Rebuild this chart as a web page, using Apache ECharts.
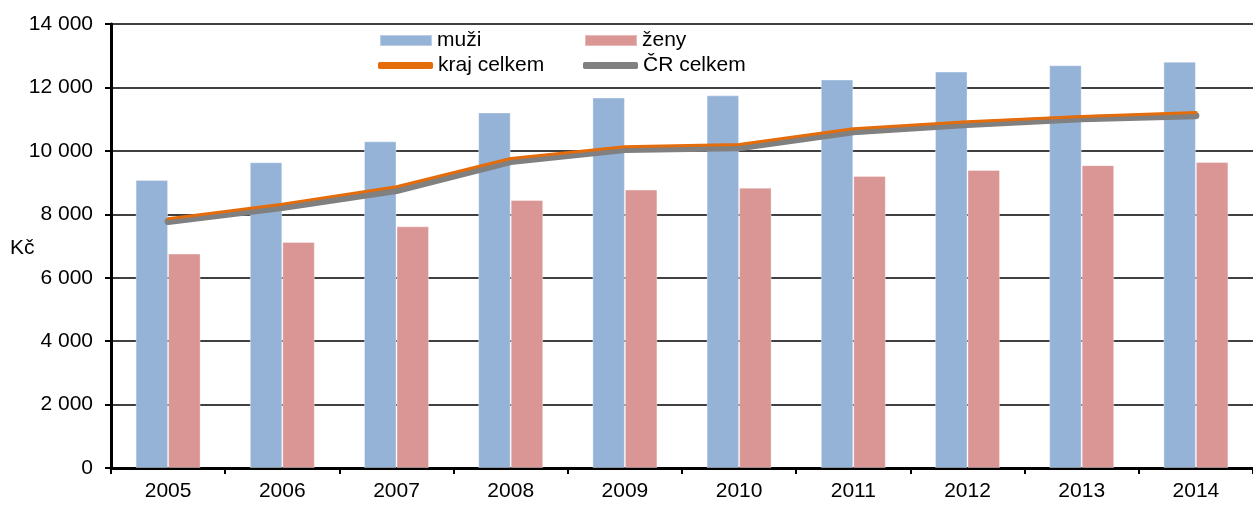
<!DOCTYPE html>
<html lang="cs">
<head>
    <meta charset="UTF-8">
    <title>Graf</title>
    <script src="https://cdn.jsdelivr.net/npm/echarts@6/dist/echarts.min.js"></script>
    <style>
        * {
            margin: 0;
            padding: 0;
        }

        #chart {
            width: 1253px;
            height: 506px;
            background: #fff;
        }
    </style>
</head>
<body>
    <div id="chart"></div>
    <script>
        // data
        const years = ['2005', '2006', '2007', '2008', '2009', '2010', '2011', '2012', '2013', '2014']
        const muzi = [9080, 9640, 10300, 11210, 11680, 11750, 12250, 12500, 12700, 12810]
        const zeny = [6760, 7130, 7620, 8450, 8780, 8840, 9210, 9400, 9550, 9650]
        const krajCelkem = [7860, 8320, 8870, 9760, 10130, 10200, 10700, 10920, 11080, 11210]
        const crCelkem = [7770, 8210, 8750, 9660, 10040, 10100, 10600, 10830, 11010, 11110]

        const font = 'Liberation Sans, Arial, sans-serif'

        const myChart = echarts.init(document.querySelector('#chart'))

        const legendBase = {
            orient: 'horizontal',
            padding: 0,
            itemTextGap: 6,
            selectedMode: false,
            textStyle: { fontFamily: font, fontSize: 21, color: '#000' }
        }

        const option = {
            animation: false,
            grid: {
                left: 111,
                right: 0,
                top: 24,
                bottom: 38
            },
            legend: [
                Object.assign({}, legendBase, { data: ['muži'], left: 379, top: 30, itemWidth: 52, itemHeight: 11, icon: 'rect' }),
                Object.assign({}, legendBase, { data: ['ženy'], left: 584, top: 30, itemWidth: 52, itemHeight: 11, icon: 'rect' }),
                Object.assign({}, legendBase, { data: ['kraj celkem'], left: 378, top: 55, itemWidth: 55, itemHeight: 7, icon: 'roundRect' }),
                Object.assign({}, legendBase, { data: ['ČR celkem'], left: 583, top: 55, itemWidth: 55, itemHeight: 7, icon: 'roundRect' })
            ],
            graphic: [{
                type: 'text',
                left: 10,
                top: 238,
                style: { text: 'Kč', fontFamily: font, fontSize: 21, fill: '#000' }
            }],
            xAxis: {
                type: 'category',
                data: years,
                axisLine: { lineStyle: { color: '#000', width: 3 } },
                axisTick: { show: true, length: 6, lineStyle: { color: '#000', width: 2 } },
                axisLabel: { fontFamily: font, fontSize: 21, color: '#000', margin: 13 },
                splitLine: { show: false }
            },
            yAxis: {
                type: 'value',
                min: 0,
                max: 14000,
                interval: 2000,
                axisLine: { show: true, lineStyle: { color: '#000', width: 3 } },
                axisTick: { show: true, length: 6, lineStyle: { color: '#000', width: 2 } },
                axisLabel: {
                    fontFamily: font,
                    fontSize: 21,
                    color: '#000',
                    margin: 18,
                    formatter: v => String(v).replace(/\B(?=(\d{3})+(?!\d))/g, ' ')
                },
                splitLine: { show: true, lineStyle: { color: '#000', width: 1.5 } }
            },
            series: [
                {
                    name: 'muži',
                    type: 'bar',
                    data: muzi,
                    barWidth: 32.5,
                    barGap: '0%',
                    itemStyle: { color: '#95B3D7', borderColor: 'rgba(255,255,255,0.35)', borderWidth: 1 }
                },
                {
                    name: 'ženy',
                    type: 'bar',
                    data: zeny,
                    barWidth: 32.5,
                    itemStyle: { color: '#D99694', borderColor: 'rgba(255,255,255,0.35)', borderWidth: 1 }
                },
                {
                    name: 'ČR celkem',
                    type: 'line',
                    data: crCelkem,
                    symbol: 'none',
                    itemStyle: { color: '#808080' },
                    lineStyle: { color: '#808080', width: 7, cap: 'round', join: 'round' }
                },
                {
                    name: 'kraj celkem',
                    type: 'line',
                    data: krajCelkem,
                    symbol: 'none',
                    itemStyle: { color: '#E46C0A' },
                    lineStyle: { color: '#E46C0A', width: 3, cap: 'round', join: 'round' }
                }
            ]
        }

        myChart.setOption(option)
    </script>
</body>
</html>
